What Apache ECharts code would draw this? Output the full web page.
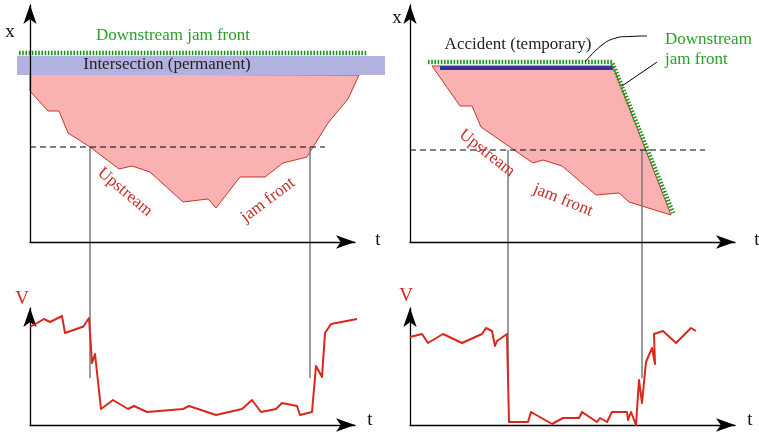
<!DOCTYPE html>
<html>
<head>
<meta charset="utf-8">
<script src="https://cdn.jsdelivr.net/npm/echarts@6/dist/echarts.min.js"></script>
<style>
  html, body { margin: 0; padding: 0; background: #fff; }
  #chart { width: 759px; height: 432px; }
</style>
</head>
<body>
<div id="chart"></div>
<script>
// ---------- Left: jam behind a permanent bottleneck (intersection) ----------
// Upstream jam front, (t, x) from the first to the last moment of the jam
const intersectionUpstreamFront = [
  [0, 151], [18, 131], [29, 131], [38, 109], [60, 95], [89, 73], [102, 76],
  [120, 70], [153, 40], [178, 43], [186, 34], [210, 65], [235, 65], [253, 79],
  [277, 85], [280, 90], [298, 119], [318, 143], [329, 167]
];
const intersectionJamTopX = 168;          // downstream edge of the jam
const intersectionBandT = [-13, 355];     // extent of the intersection band
const intersectionBandX = [167, 186];
const intersectionDownstreamFront = [[-11, 189], [337, 189]];
const intersectionDetectorX = 95;         // detector location (dashed line)
const intersectionDetectorT = [0, 295];
const intersectionCrossings = [60, 280];  // times the fronts pass the detector
// Speed measured at the detector
const intersectionSpeed = [
  [0, 98], [14, 106], [20, 103], [32, 109], [35, 92], [52, 98], [53, 98],
  [59, 107], [62, 62], [65, 71], [71, 16], [83, 25], [98, 16], [104, 19],
  [117, 13], [153, 16], [159, 19], [186, 10], [212, 16], [222, 25], [231, 13],
  [246, 16], [252, 22], [267, 19], [270, 10], [282, 13], [286, 59], [292, 48],
  [295, 92], [301, 101], [327, 106]
];

// ---------- Right: jam behind a temporary bottleneck (accident) ----------
const accidentJamOutline = [
  [22, 176], [203, 176], [261, 27], [219, 40], [209, 49], [186, 47],
  [152, 76], [133, 82], [123, 79], [71, 115], [62, 136], [50, 136]
];
const accidentLine = [[30, 174], [203, 174]];
const accidentDownstreamFront = [[18, 180], [202, 180], [263, 29]];
const accidentDetectorX = 92;
const accidentDetectorT = [0, 295];
const accidentCrossings = [98, 232];
const accidentLeader = [[175, 180], [192, 197], [206, 204], [220, 205.5], [237, 206]];
const frontLeader = [[212, 156], [247, 180]];
const accidentSpeed = [
  [0, 88], [12, 91], [18, 82], [33, 91], [52, 82], [72, 91], [76, 97],
  [82, 94], [85, 79], [87, 84], [97, 91], [99, 3], [118, 3], [121, 13],
  [142, 1], [153, 7], [169, 7], [172, 13], [187, 3], [190, 7], [197, 3],
  [202, 13], [217, 13], [218, 5], [221, 13], [226, 0], [229, 45], [232, 22],
  [236, 63], [242, 77], [245, 61], [244, 91], [253, 94], [266, 82],
  [281, 97], [286, 94]
];

// Axis extents shared by the panels
const tMax = 325;
const xMax = 237;
const vMax = 117;
const dropTo = -136;   // how far the detector-crossing guides reach into the speed panels

const SERIF = '"Liberation Serif", "DejaVu Serif", serif';
const JAM_FILL = '#f9b1b1';
const JAM_EDGE = '#c9362e';
const GREEN = '#1d961d';
const SPEED_RED = '#d8281c';

const chart = echarts.init(document.getElementById('chart'));

function axisPair(max) {
  const common = {
    type: 'value', min: 0, splitLine: { show: false },
    axisTick: { show: false }, axisLabel: { show: false },
    axisLine: {
      show: true, symbol: ['none', 'arrow'], symbolSize: [10, 19],
      lineStyle: { color: '#000', width: 1.3 }
    },
    z: 5
  };
  return { x: Object.assign({}, common, { max: tMax }), y: Object.assign({}, common, { max }) };
}

const grids = [
  { left: 30, top: 5, width: tMax, height: xMax },
  { left: 30, top: 308, width: tMax, height: vMax },
  { left: 410, top: 5, width: tMax, height: xMax },
  { left: 410, top: 308, width: tMax, height: vMax }
];
const axes = [axisPair(xMax), axisPair(vMax), axisPair(xMax), axisPair(vMax)];

function polygon(grid, points, style, z) {
  return {
    type: 'custom', xAxisIndex: grid, yAxisIndex: grid, z, silent: true,
    data: [[0, 0]],
    renderItem: (params, api) => ({
      type: 'polygon',
      shape: { points: points.map(p => api.coord(p)) },
      style
    })
  };
}

// polylines are drawn as custom shapes so they may run past the axis ends
function line(grid, points, style, z, smooth) {
  return {
    type: 'custom', xAxisIndex: grid, yAxisIndex: grid, z, silent: true,
    data: [[0, 0]],
    renderItem: (params, api) => ({
      type: 'polyline',
      shape: { points: points.map(p => api.coord(p)), smooth: smooth || 0 },
      style: Object.assign({ fill: null, lineJoin: 'round' }, style)
    })
  };
}

function texts(grid, items) {
  return {
    type: 'custom', xAxisIndex: grid, yAxisIndex: grid, z: 20, silent: true,
    data: items.map(it => [it.at[0], it.at[1]]),
    renderItem: (params, api) => {
      const it = items[params.dataIndex];
      const c = api.coord(it.at);
      return {
        type: 'text', x: c[0], y: c[1],
        rotation: (it.rotate || 0) * Math.PI / 180,
        style: {
          text: it.text, fill: it.color, font: (it.size || 17) + 'px ' + SERIF,
          align: it.align || 'center', verticalAlign: 'middle'
        }
      };
    }
  };
}

const dashedFront = { stroke: GREEN, lineWidth: 4.5, lineDash: [1.6, 1.6], lineCap: 'butt' };
const detectorStyle = { stroke: '#000', lineWidth: 1, lineDash: [6, 4] };
const guideStyle = { stroke: '#7a7a7a', lineWidth: 1.5 };

function guides(grid, crossings, detX) {
  return crossings.map(t => line(grid, [[t, detX], [t, dropTo]], guideStyle, 3));
}

const series = [
  // left panel
  polygon(0, [[0, intersectionJamTopX]].concat(intersectionUpstreamFront),
    { fill: JAM_FILL, stroke: JAM_EDGE, lineWidth: 1 }, 1),
  polygon(0, [[intersectionBandT[0], intersectionBandX[0]], [intersectionBandT[1], intersectionBandX[0]],
              [intersectionBandT[1], intersectionBandX[1]], [intersectionBandT[0], intersectionBandX[1]]],
    { fill: '#b2b2e0' }, 2),
  line(0, intersectionDownstreamFront, dashedFront, 4),
  line(0, [[intersectionDetectorT[0], intersectionDetectorX], [intersectionDetectorT[1], intersectionDetectorX]], detectorStyle, 4),
  ...guides(0, intersectionCrossings, intersectionDetectorX),
  line(1, intersectionSpeed, { stroke: SPEED_RED, lineWidth: 2 }, 6),
  texts(0, [
    { text: 'Downstream jam front', at: [143, 206], color: '#2aa02a' },
    { text: 'Intersection (permanent)', at: [137, 177], color: '#222' },
    { text: 'Upstream', at: [95, 50], color: '#c0312a', rotate: -40 },
    { text: 'jam front', at: [238, 42], color: '#c0312a', rotate: 37 }
  ]),
  // right panel
  polygon(2, accidentJamOutline, { fill: JAM_FILL, stroke: JAM_EDGE, lineWidth: 1 }, 1),
  line(2, accidentLine, { stroke: '#33339a', lineWidth: 4 }, 3),
  line(2, accidentDownstreamFront, dashedFront, 4),
  line(2, [[accidentDetectorT[0], accidentDetectorX], [accidentDetectorT[1], accidentDetectorX]], detectorStyle, 4),
  ...guides(2, accidentCrossings, accidentDetectorX),
  line(2, accidentLeader, { stroke: '#000', lineWidth: 1 }, 5, 0.5),
  line(2, frontLeader, { stroke: '#000', lineWidth: 1 }, 5),
  line(3, accidentSpeed, { stroke: SPEED_RED, lineWidth: 2 }, 6),
  texts(2, [
    { text: 'Accident (temporary)', at: [108, 197], color: '#222' },
    { text: 'Downstream', at: [255, 202], color: '#2aa02a', align: 'left' },
    { text: 'jam front', at: [255, 182], color: '#2aa02a', align: 'left' },
    { text: 'Upstream', at: [77, 89], color: '#c0312a', rotate: -38 },
    { text: 'jam front', at: [153, 42], color: '#c0312a', rotate: -22 }
  ])
];

function axisName(text, x, y, color) {
  return {
    type: 'text', x, y,
    style: { text, fill: color, font: '19px ' + SERIF, align: 'center', verticalAlign: 'middle' }
  };
}

chart.setOption({
  animation: false,
  grid: grids,
  xAxis: axes.map((a, i) => Object.assign({ gridIndex: i }, a.x)),
  yAxis: axes.map((a, i) => Object.assign({ gridIndex: i }, a.y)),
  series,
  graphic: [
    axisName('x', 10, 32, '#111'),
    axisName('t', 378, 240, '#111'),
    axisName('V', 22, 299, SPEED_RED),
    axisName('t', 370, 420, '#111'),
    axisName('x', 397, 18, '#111'),
    axisName('t', 757, 240, '#111'),
    axisName('V', 406, 296, SPEED_RED),
    axisName('t', 750, 420, '#111')
  ]
});
</script>
</body>
</html>
